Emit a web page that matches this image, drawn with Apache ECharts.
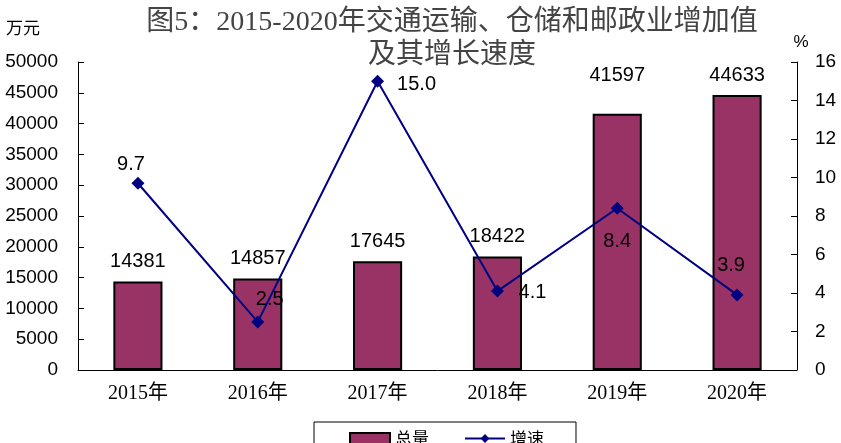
<!DOCTYPE html>
<html>
<head>
<meta charset="utf-8">
<title>交通运输、仓储和邮政业增加值</title>
<script src="https://cdn.jsdelivr.net/npm/echarts@6/dist/echarts.min.js"></script>
<style>
  html, body { margin: 0; padding: 0; background: #fff; }
  #chart { width: 841px; height: 443px; }
</style>
</head>
<body>
<div id="chart"></div>
<script>
// 图表数据
const years = ['2015年', '2016年', '2017年', '2018年', '2019年', '2020年'];
const totalValues = [14381, 14857, 17645, 18422, 41597, 44633];   // 万元
const growthRates = [9.7, 2.5, 15.0, 4.1, 8.4, 3.9];              // %
const leftTicks = { min: 0, max: 50000, interval: 5000 };
const rightTicks = { min: 0, max: 16, interval: 2 };

const sans = "'Liberation Sans', Arial, sans-serif";
const serifCjk = "'Liberation Serif', 'Noto Sans CJK SC', serif";
const cjk = "'Noto Sans CJK SC', sans-serif";

// 标签偏移（相对于数据点）
const barLabelShift = [0, 0, 0, 0, -18, 0];
const growthLabelShift = [[-7, -19], [12, -22], [39, 3], [35, 1], [0, 33], [-6, -29]];

const chart = echarts.init(document.getElementById('chart'));

const option = {
  animation: false,
  backgroundColor: '#fff',
  title: {
    text: '图5：2015-2020年交通运输、仓储和邮政业增加值\n及其增长速度',
    left: 447,
    top: 1,
    textAlign: 'center',
    textStyle: {
      fontFamily: serifCjk,
      fontSize: 28,
      fontWeight: 'normal',
      color: '#444',
      lineHeight: 33
    }
  },
  legend: {
    left: 314,
    top: 422,
    padding: [8, 32, 20, 35],
    borderColor: '#000',
    borderWidth: 1,
    itemWidth: 40,
    itemHeight: 11,
    itemGap: 35,
    textStyle: { fontFamily: cjk, fontSize: 17, color: '#000' },
    data: [{ name: '总量', icon: 'rect' }, { name: '增速' }]
  },
  grid: { left: 78, right: 44, top: 62, bottom: 73 },
  xAxis: {
    type: 'category',
    data: years,
    axisLine: { lineStyle: { color: '#000', width: 1 } },
    axisTick: { inside: true, length: 6, lineStyle: { color: '#000' } },
    axisLabel: { fontFamily: serifCjk, fontSize: 20, color: '#000', margin: 14 }
  },
  yAxis: [
    {
      type: 'value',
      ...leftTicks,
      name: '万元',
      nameLocation: 'end',
      nameGap: 34,
      nameTextStyle: {
        fontFamily: cjk, fontSize: 17, color: '#000',
        align: 'right', verticalAlign: 'middle', padding: [0, 38, 0, 0]
      },
      axisLine: { show: true, lineStyle: { color: '#000', width: 1 } },
      axisTick: { show: true, inside: true, length: 6, lineStyle: { color: '#000' } },
      axisLabel: {
        fontFamily: sans, fontSize: 19, color: '#000', margin: 20,
        formatter: v => String(v)
      },
      splitLine: { show: false }
    },
    {
      type: 'value',
      ...rightTicks,
      name: '%',
      nameLocation: 'end',
      nameGap: 20,
      nameTextStyle: {
        fontFamily: sans, fontSize: 17, color: '#000',
        align: 'center', verticalAlign: 'middle', padding: [0, 0, 0, 8]
      },
      axisLine: { show: true, lineStyle: { color: '#000', width: 1 } },
      axisTick: { show: true, inside: true, length: 6, lineStyle: { color: '#000' } },
      axisLabel: { fontFamily: sans, fontSize: 19, color: '#000', margin: 18 },
      splitLine: { show: false }
    }
  ],
  series: [
    {
      name: '总量',
      type: 'bar',
      barWidth: '41%',
      itemStyle: { color: '#993366', borderColor: '#000', borderWidth: 2 },
      label: {
        show: true,
        position: 'top',
        distance: 10,
        fontFamily: sans,
        fontSize: 20,
        color: '#000'
      },
      data: totalValues.map((v, i) => ({
        value: v,
        label: { offset: [0, barLabelShift[i]] }
      }))
    },
    {
      name: '增速',
      type: 'line',
      yAxisIndex: 1,
      symbol: 'diamond',
      symbolSize: 13,
      lineStyle: { color: '#000080', width: 2 },
      itemStyle: { color: '#000080' },
      label: {
        show: true,
        position: 'inside',
        fontFamily: sans,
        fontSize: 20,
        color: '#000',
        formatter: p => p.value.toFixed(1)
      },
      data: growthRates.map((v, i) => ({
        value: v,
        label: { offset: growthLabelShift[i] }
      })),
      z: 5
    }
  ]
};

chart.setOption(option);
</script>
</body>
</html>
